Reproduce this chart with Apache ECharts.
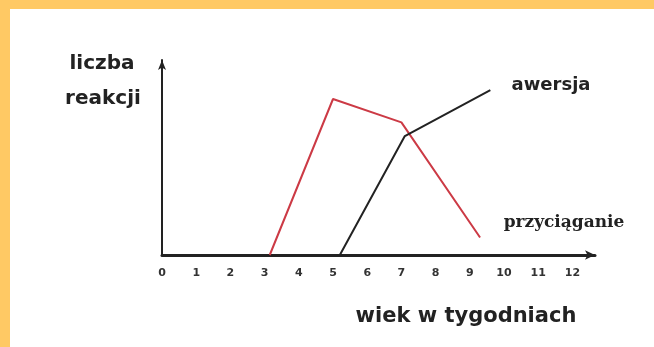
<!DOCTYPE html>
<html>
<head>
<meta charset="utf-8">
<script src="https://cdn.jsdelivr.net/npm/echarts@6/dist/echarts.min.js"></script>
<style>
html,body{margin:0;padding:0;background:#fff;}
#c{width:654px;height:347px;}
</style>
</head>
<body>
<div id="c"></div>
<script>
var weekTicks = [0,1,2,3,4,5,6,7,8,9,10,11,12];
var attraction = [[3.15,0],[5.0,80],[7.0,68],[9.3,9]];
var aversion = [[5.2,0],[7.1,61],[9.6,84.5]];
var yTitle = ['liczba','reakcji'];
var xTitle = 'wiek w tygodniach';
var seriesNames = ['przyciąganie','awersja'];

var chart = echarts.init(document.getElementById('c'));
var font = "'DejaVu Sans', sans-serif";
chart.setOption({
  animation:false,
  backgroundColor:'#fff',
  grid:{left:162,right:59,top:60,bottom:92},
  xAxis:{
    type:'value',min:0,max:12.66,interval:1,
    axisLine:{lineStyle:{color:'#222',width:3},symbol:['none','arrow'],symbolSize:[7,10]},
    axisTick:{show:false},
    splitLine:{show:false},
    axisLabel:{
      color:'#333',fontSize:11,fontWeight:'bold',fontFamily:font,margin:13,
      showMaxLabel:false,
      formatter:function(v){return weekTicks.indexOf(v)>=0?String(v):'';}
    }
  },
  yAxis:{
    type:'value',min:0,max:100,
    axisLine:{show:true,lineStyle:{color:'#222',width:2},symbol:['none','arrow'],symbolSize:[6,10]},
    axisTick:{show:false},axisLabel:{show:false},splitLine:{show:false}
  },
  series:[
    {name:seriesNames[0],type:'line',data:attraction,symbol:'none',
     lineStyle:{color:'#cc3a45',width:2},z:2},
    {name:seriesNames[1],type:'line',data:aversion,symbol:'none',
     lineStyle:{color:'#222',width:2},z:3}
  ],
  graphic:[
    {type:'rect',left:0,top:0,shape:{width:654,height:9},style:{fill:'#FFC964'},silent:true},
    {type:'rect',left:0,top:0,shape:{width:10,height:347},style:{fill:'#FFC964'},silent:true},
    {type:'text',x:102,y:64,style:{text:yTitle[0],fontSize:20,fontWeight:'bold',fontFamily:font,fill:'#222',align:'center',verticalAlign:'middle'}},
    {type:'text',x:103,y:99,style:{text:yTitle[1],fontSize:20,fontWeight:'bold',fontFamily:font,fill:'#222',align:'center',verticalAlign:'middle'}},
    {type:'text',x:551,y:85,style:{text:seriesNames[1],fontSize:18,fontWeight:'bold',fontFamily:font,fill:'#222',align:'center',verticalAlign:'middle'}},
    {type:'text',x:564,y:223,style:{text:seriesNames[0],fontSize:17,fontWeight:'bold',fontFamily:"'DejaVu Serif', serif",fill:'#222',align:'center',verticalAlign:'middle'}},
    {type:'text',x:466,y:317,style:{text:xTitle,fontSize:21,fontWeight:'bold',fontFamily:font,fill:'#222',align:'center',verticalAlign:'middle'}}
  ]
});
</script>
</body>
</html>
